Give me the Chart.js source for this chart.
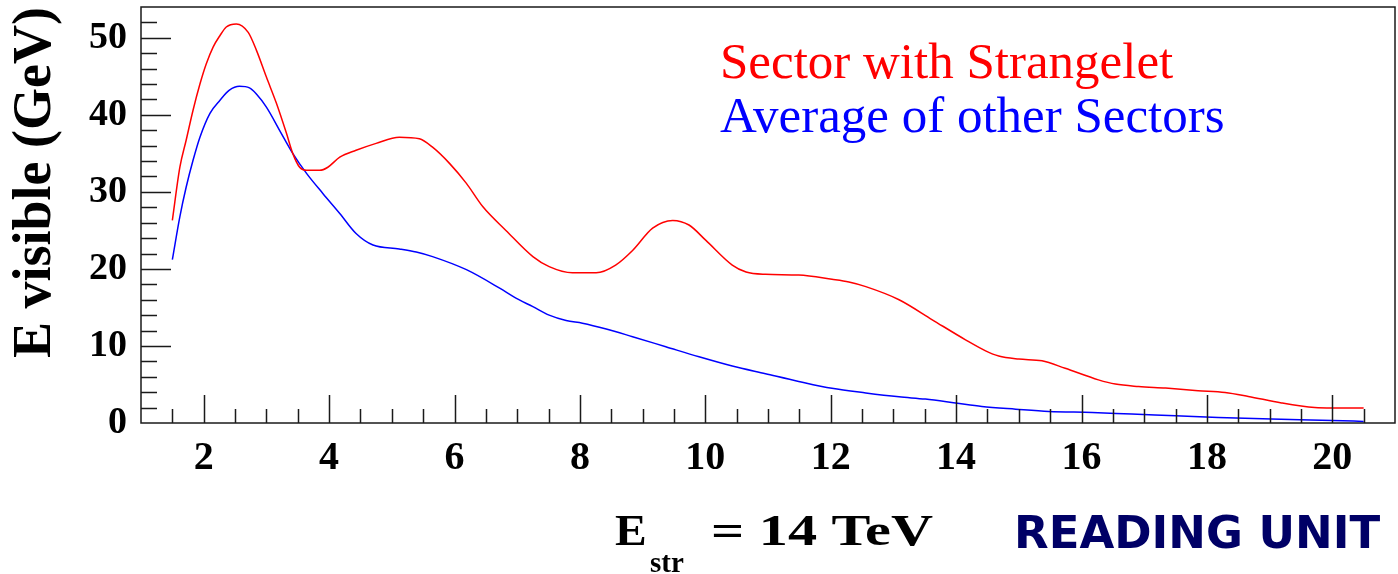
<!DOCTYPE html>
<html>
<head>
<meta charset="utf-8">
<script src="https://cdn.jsdelivr.net/npm/chart.js@4/dist/chart.umd.min.js"></script>
<style>
  html, body { margin: 0; padding: 0; background: #fff; }
  #wrap { width: 1398px; height: 574px; position: relative; }
</style>
</head>
<body>
<div id="wrap"><canvas id="c"></canvas></div>
<script>
// ---- data ----
const redX = [1.5,1.62,1.72,1.83,1.94,2.04,2.15,2.26,2.36,2.52,2.71,2.84,3.0,3.16,3.32,3.42,3.53,3.64,3.85,3.98,4.17,4.43,4.75,5.12,5.44,5.65,5.92,6.19,6.45,6.82,7.25,7.51,7.88,8.26,8.57,8.84,9.16,9.48,9.74,10.01,10.43,10.65,10.96,11.49,12.02,12.29,12.56,13.09,13.62,14.15,14.47,14.68,15.0,15.37,15.74,16.27,16.54,16.91,17.34,17.86,18.29,18.66,19.19,19.72,20.0,20.5];
const redValues = [26.3,33.2,36.7,40.6,44.0,46.6,48.8,50.3,51.4,51.8,50.7,48.4,44.9,41.5,37.6,35.0,33.2,32.8,32.8,33.2,34.5,35.4,36.3,37.1,36.9,35.8,33.7,31.1,28.1,25.0,21.6,20.3,19.5,19.5,20.5,22.4,25.3,26.3,25.7,23.7,20.5,19.6,19.3,19.2,18.65,18.3,17.7,16.0,13.4,10.8,9.37,8.7,8.3,8.07,7.1,5.6,5.05,4.74,4.53,4.2,3.96,3.45,2.6,2.0,1.94,1.94];
const blueX = [1.5,1.62,1.72,1.83,1.94,2.1,2.26,2.41,2.57,2.73,2.84,3.0,3.21,3.42,3.64,3.9,4.17,4.43,4.7,5.12,5.39,5.65,6.19,6.72,6.98,7.25,7.51,7.78,8.04,8.42,8.84,9.37,9.9,10.43,10.96,11.49,12.02,12.56,13.09,13.51,13.99,14.41,14.95,15.48,16.17,16.8,17.5,18.18,19.03,20.0,20.5];
const blueValues = [21.2,26.8,30.6,34.1,37.1,40.2,41.9,43.2,43.7,43.5,42.7,41.0,38.0,35.0,32.4,29.8,27.2,24.6,23.1,22.6,22.2,21.6,19.9,17.5,16.2,15.1,14.0,13.3,12.95,12.2,11.2,9.9,8.6,7.4,6.4,5.4,4.5,3.9,3.4,3.1,2.6,2.15,1.8,1.5,1.37,1.16,0.95,0.73,0.52,0.34,0.2];
const xTickValues = [2,4,6,8,10,12,14,16,18,20];
const yTickValues = [0,10,20,30,40,50];
const seriesLabels = ['Sector with Strangelet', 'Average of other Sectors'];
const yTitle = 'E visible (GeV)';
const xTitleMain = 'E', xTitleSub = 'str', xTitleRest = '= 14 TeV';
const noteText = 'READING UNIT';

const toPts = (xs, ys) => xs.map((x, i) => ({ x: x, y: ys[i] }));

const decor = {
  id: 'decor',
  afterDraw(chart) {
    const ctx = chart.ctx;
    const a = chart.chartArea;
    const xs = chart.scales.x, ys = chart.scales.y;
    ctx.save();
    ctx.strokeStyle = '#1a1a1a';
    ctx.lineWidth = 1.5;
    // frame
    ctx.strokeRect(a.left, a.top, a.right - a.left, a.bottom - a.top);
    // x ticks
    ctx.beginPath();
    for (let v = 1.5; v <= 20.51; v += 0.5) {
      const px = Math.round(xs.getPixelForValue(v)) + 0.5;
      const major = xTickValues.includes(Math.round(v * 10) / 10);
      ctx.moveTo(px, a.bottom);
      ctx.lineTo(px, a.bottom - (major ? 28 : 14));
    }
    // y ticks
    for (let v = 2; v <= 52.01; v += 2) {
      const py = Math.round(ys.getPixelForValue(v)) + 0.5;
      const major = yTickValues.includes(v);
      ctx.moveTo(a.left, py);
      ctx.lineTo(a.left + (major ? 30 : 16), py);
    }
    ctx.stroke();

    // legend texts
    ctx.textBaseline = 'alphabetic';
    ctx.textAlign = 'left';
    ctx.font = '51px "Liberation Serif"';
    ctx.fillStyle = '#ff0000';
    ctx.fillText(seriesLabels[0], 720, 78);
    ctx.fillStyle = '#0000ff';
    ctx.fillText(seriesLabels[1], 720, 132);

    // x title
    ctx.fillStyle = '#000';
    ctx.font = 'bold 44px "Liberation Serif"';
    ctx.save();
    ctx.translate(615, 545);
    ctx.scale(1.08, 1);
    ctx.fillText(xTitleMain, 0, 0);
    ctx.restore();
    ctx.font = 'bold 29px "Liberation Serif"';
    ctx.fillText(xTitleSub, 650, 572);
    ctx.font = 'bold 44px "Liberation Serif"';
    const w = ctx.measureText(xTitleRest).width;
    ctx.save();
    ctx.translate(711, 545);
    ctx.scale(222 / w, 1);
    ctx.fillText(xTitleRest, 0, 0);
    ctx.restore();

    // note
    ctx.font = 'bold 45px "DejaVu Sans"';
    ctx.fillStyle = '#000066';
    ctx.fillText(noteText, 1014, 548);
    ctx.restore();
  }
};

new Chart(document.getElementById('c'), {
  type: 'line',
  data: {
    datasets: [
      { label: seriesLabels[0], data: toPts(redX, redValues), borderColor: '#ff0000', borderWidth: 1.5, pointRadius: 0, fill: false, cubicInterpolationMode: 'monotone' },
      { label: seriesLabels[1], data: toPts(blueX, blueValues), borderColor: '#0000ff', borderWidth: 1.5, pointRadius: 0, fill: false, cubicInterpolationMode: 'monotone' }
    ]
  },
  options: {
    responsive: true,
    maintainAspectRatio: false,
    animation: false,
    layout: { padding: { top: 7, right: 3, left: 0, bottom: 0 } },
    plugins: { legend: { display: false }, tooltip: { enabled: false } },
    scales: {
      x: {
        type: 'linear', min: 1, max: 21,
        afterBuildTicks: s => { s.ticks = xTickValues.map(v => ({ value: v })); },
        afterFit: s => { s.height = 151; s.paddingLeft = 0; s.paddingRight = 0; },
        grid: { display: false },
        border: { display: false },
        ticks: { color: '#000', padding: 4, maxRotation: 0, font: { family: 'Liberation Serif', weight: 'bold', size: 40 } }
      },
      y: {
        type: 'linear', min: 0, max: 54,
        afterBuildTicks: s => { s.ticks = yTickValues.map(v => ({ value: v })); },
        afterFit: s => { s.width = 141; s.paddingTop = 0; s.paddingBottom = 0; },
        grid: { display: false },
        border: { display: false },
        ticks: { color: '#000', padding: 6, font: { family: 'Liberation Serif', weight: 'bold', size: 38 } },
        title: { display: true, text: yTitle, align: 'end', color: '#000', padding: { top: 4, bottom: 0 }, font: { family: 'Liberation Serif', weight: 'bold', size: 54 } }
      }
    }
  },
  plugins: [decor]
});
</script>
</body>
</html>
